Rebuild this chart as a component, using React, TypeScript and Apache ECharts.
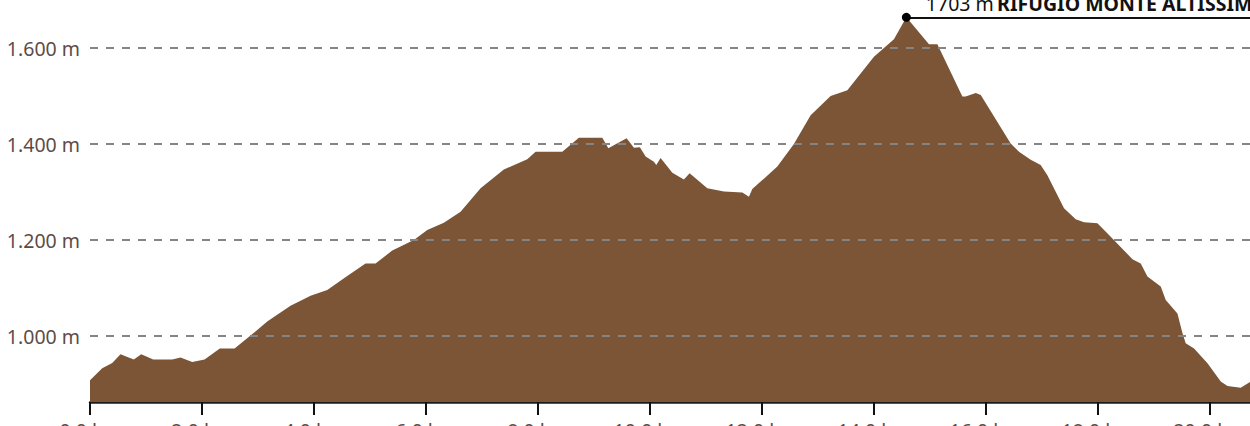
import React, { useEffect, useRef } from "react";
import * as echarts from "echarts";

const DIST_KM = [
  0, 0.218, 0.397, 0.545, 0.634, 0.783, 0.915, 1.129, 1.469, 1.617, 1.826, 2.046,
  2.319, 2.582, 2.868, 3.166, 3.582, 3.94, 4.238, 4.595, 4.922, 5.101, 5.399, 5.785,
  6.025, 6.321, 6.62, 6.977, 7.393, 7.811, 7.96, 8.437, 8.733, 9.151, 9.259, 9.586,
  9.716, 9.823, 9.925, 10.073, 10.116, 10.193, 10.402, 10.609, 10.711, 11.027, 11.324,
  11.653, 11.771, 11.831, 12.278, 12.574, 12.873, 13.23, 13.529, 14.004, 14.361,
  14.583, 14.987, 15.137, 15.583, 15.642, 15.823, 15.912, 16.446, 16.595, 16.804,
  16.982, 17.102, 17.399, 17.608, 17.756, 17.996, 18.233, 18.621, 18.769, 18.889,
  19.127, 19.216, 19.425, 19.514, 19.573, 19.722, 19.962, 20.199, 20.319, 20.556, 20.735,
];
const ELEV_M = [
  908, 933, 944, 962, 958, 951, 962, 951, 951, 955, 946, 951,
  974, 974, 1001, 1030, 1063, 1084, 1096, 1125, 1151, 1151, 1178, 1200,
  1221, 1236, 1259, 1308, 1347, 1368, 1384, 1384, 1413, 1413, 1391, 1412,
  1392, 1393, 1374, 1363, 1356, 1371, 1340, 1326, 1339, 1308, 1301,
  1299, 1290, 1306, 1353, 1400, 1460, 1500, 1512, 1582, 1618,
  1664, 1608, 1608, 1499, 1499, 1506, 1502, 1401, 1384, 1367,
  1356, 1335, 1266, 1243, 1237, 1235, 1207, 1160, 1151, 1124,
  1103, 1075, 1047, 1006, 985, 974, 943, 905, 896, 892, 905,
];
const Y_GRID = [1000, 1200, 1400, 1600];
const X_MIN = 0;
const X_MAX = 20.9;
const Y_MIN = 862.5;
const Y_MAX = 1700;
const PEAK_KM = 14.583;
const PEAK_M = 1664;
const PEAK_LABEL_VALUE = "1703 m";
const PEAK_LABEL_NAME = "RIFUGIO MONTE ALTISSIMO";

const FONT = "Noto Sans";
const TEXT_COLOR = "#5e4b46";

function fmtThousands(v: number): string {
  const s = Math.round(v).toString();
  return s.replace(/\B(?=(\d{3})+(?!\d))/g, ".");
}

export default function App() {
  const ref = useRef<HTMLDivElement>(null);
  useEffect(() => {
    if (!ref.current) return;
    const chart = echarts.init(ref.current, null, { renderer: "svg" });
    const data = DIST_KM.map((d, i) => [d, ELEV_M[i]]);
    chart.setOption({
      animation: false,
      grid: {
        left: 90,
        right: -10,
        top: 20,
        bottom: 24,
        containLabel: false,
        outerBoundsMode: "none",
      },
      xAxis: {
        type: "value",
        min: X_MIN,
        max: X_MAX,
        interval: 2,
        axisLine: { show: true, lineStyle: { color: "#1c1c1c", width: 2.5 } },
        axisTick: { show: true, length: 13, lineStyle: { color: "#111", width: 2 } },
        axisLabel: {
          margin: 18,
          color: TEXT_COLOR,
          fontFamily: FONT,
          fontSize: 19.5,
          showMaxLabel: false,
          formatter: (v: number) => v.toFixed(1).replace(".", ",") + " km",
        },
        splitLine: { show: false },
      },
      yAxis: {
        type: "value",
        min: Y_MIN,
        max: Y_MAX,
        axisLine: { show: false },
        axisTick: { show: false },
        splitLine: { show: false },
        axisLabel: {
          margin: 10,
          color: TEXT_COLOR,
          fontFamily: FONT,
          fontSize: 19.5,
          showMinLabel: false,
          showMaxLabel: false,
          formatter: (v: number) => fmtThousands(v) + " m",
        },
      },
      series: [
        {
          type: "line",
          data,
          symbol: "none",
          showSymbol: false,
          lineStyle: { width: 0 },
          areaStyle: { color: "#7b5536", opacity: 1, origin: "start" },
          markLine: {
            silent: true,
            symbol: ["none", "none"],
            label: { show: false },
            data: [
              ...Y_GRID.map((y) => ({
                yAxis: y,
                lineStyle: { color: "#858585", width: 2, type: [8, 8] },
              })),
              [
                { coord: [PEAK_KM, PEAK_M], lineStyle: { color: "#111", width: 2, type: "solid" } },
                { coord: [X_MAX, PEAK_M] },
              ],
            ],
          },
          markPoint: {
            silent: true,
            symbol: "circle",
            symbolSize: 9,
            itemStyle: { color: "#000" },
            data: [
              {
                coord: [PEAK_KM, PEAK_M],
                label: {
                  show: true,
                  position: [24, 1],
                  align: "left",
                  verticalAlign: "bottom",
                  formatter: `{v|${PEAK_LABEL_VALUE}} {n|${PEAK_LABEL_NAME}}`,
                  rich: {
                    v: { fontFamily: FONT, fontSize: 19.5, color: "#111", lineHeight: 20 },
                    n: { fontFamily: FONT, fontSize: 19.5, fontWeight: "bold", color: "#111", lineHeight: 20 },
                  },
                },
              },
            ],
          },
        },
      ],
    });
    return () => chart.dispose();
  }, []);
  return (
    <div
      ref={ref}
      style={{ position: "absolute", left: 0, top: -20, width: 1250, height: 446 }}
    />
  );
}
